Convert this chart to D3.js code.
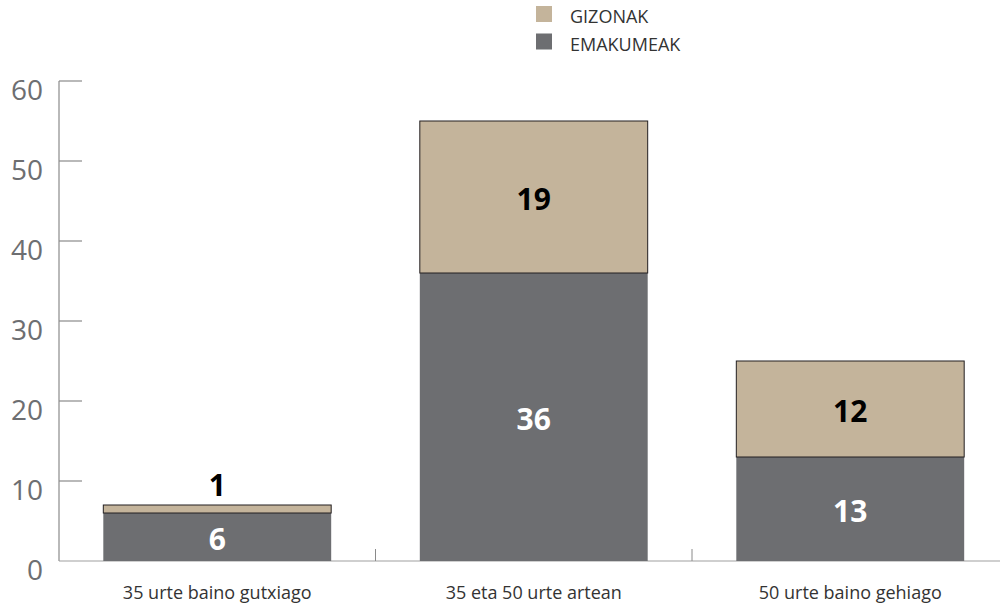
<!DOCTYPE html>
<html><head><meta charset="utf-8">
<script src="https://cdn.jsdelivr.net/npm/d3@7"></script>
<style>
body{margin:0;background:#fff;}
svg{display:block;font-family:"Open Sans",sans-serif;}
</style></head>
<body><svg id="c" width="1000" height="606"></svg>
<script>
const categories = ["35 urte baino gutxiago", "35 eta 50 urte artean", "50 urte baino gehiago"];
const emakumeak = [6, 36, 13];
const gizonak = [1, 19, 12];
const seriesNames = ["EMAKUMEAK", "GIZONAK"];
const seriesColors = ["#6d6e71", "#c4b49b"];
const yTicks = [0, 10, 20, 30, 40, 50, 60];

const svg = d3.select("#c");
const x0 = 59, x1 = 1008.5, yTop = 81, yBase = 561;

const x = d3.scaleBand().domain(categories).range([x0, x1]).paddingInner(0.28).paddingOuter(0.14);
const xb = d3.scaleBand().domain(categories).range([x0, x1]).padding(0);
const y = d3.scaleLinear().domain([0, 60]).range([yBase, yTop]);

// y axis
svg.append("line").attr("x1", x0).attr("x2", x0).attr("y1", y(60)).attr("y2", yBase)
  .attr("stroke", "#8a8a8a").attr("stroke-width", 1.2);
svg.selectAll(".yt").data(yTicks.filter(d => d > 0)).enter().append("line")
  .attr("x1", x0).attr("x2", x0 + 23).attr("y1", d => y(d)).attr("y2", d => y(d))
  .attr("stroke", "#8a8a8a").attr("stroke-width", 1.2);
svg.selectAll(".yl").data(yTicks).enter().append("text")
  .attr("x", 43).attr("y", d => y(d) + 8).attr("text-anchor", "end")
  .attr("dominant-baseline", "central")
  .attr("font-size", 28).attr("font-weight", 400).attr("fill", "#6d6e71").text(d => d);

// baseline
svg.append("line").attr("x1", x0).attr("x2", 1000).attr("y1", yBase).attr("y2", yBase)
  .attr("stroke", "#a0a0a0").attr("stroke-width", 1.2);
// category separator ticks
svg.selectAll(".xt").data(categories.slice(1)).enter().append("line")
  .attr("x1", d => xb(d)).attr("x2", d => xb(d)).attr("y1", yBase).attr("y2", yBase - 12)
  .attr("stroke", "#8a8a8a").attr("stroke-width", 1);

// stacked data
const rows = categories.map((c, i) => ({cat: c, EMAKUMEAK: emakumeak[i], GIZONAK: gizonak[i]}));
const stack = d3.stack().keys(seriesNames)(rows);

stack.forEach((layer, li) => {
  svg.selectAll(".b" + li).data(layer).enter().append("rect")
    .attr("x", d => x(d.data.cat)).attr("width", x.bandwidth())
    .attr("y", d => y(d[1])).attr("height", d => y(d[0]) - y(d[1]))
    .attr("fill", seriesColors[li])
    .attr("stroke", li === 1 ? "#231f20" : "none").attr("stroke-width", li === 1 ? 1 : 0);
});
// value labels
stack.forEach((layer, li) => {
  svg.selectAll(".v" + li).data(layer).enter().append("text")
    .attr("x", d => x(d.data.cat) + x.bandwidth() / 2)
    .attr("y", d => {
      const h = y(d[0]) - y(d[1]);
      if (h < 30) return y(d[1]) - 21;
      return (y(d[0]) + y(d[1])) / 2 + 1;
    })
    .attr("text-anchor", "middle").attr("dominant-baseline", "central")
    .attr("font-size", 30).attr("font-weight", 700)
    .attr("fill", li === 0 ? "#ffffff" : "#000000")
    .text(d => d[1] - d[0]);
});

// x labels
svg.selectAll(".xl").data(categories).enter().append("text")
  .attr("x", d => x(d) + x.bandwidth() / 2).attr("y", 592)
  .attr("text-anchor", "middle").attr("dominant-baseline", "central")
  .attr("font-size", 18).attr("fill", "#333").text(d => d);

// legend
const legend = [{name: "GIZONAK", color: seriesColors[1]}, {name: "EMAKUMEAK", color: seriesColors[0]}];
const lg = svg.selectAll(".lg").data(legend).enter().append("g")
  .attr("transform", (d, i) => `translate(536, ${6 + i * 27.5})`);
lg.append("rect").attr("width", 16).attr("height", 16).attr("fill", d => d.color);
lg.append("text").attr("x", 34).attr("y", 10).attr("dominant-baseline", "central")
  .attr("font-size", 18).attr("fill", "#333").text(d => d.name);
</script></body></html>
